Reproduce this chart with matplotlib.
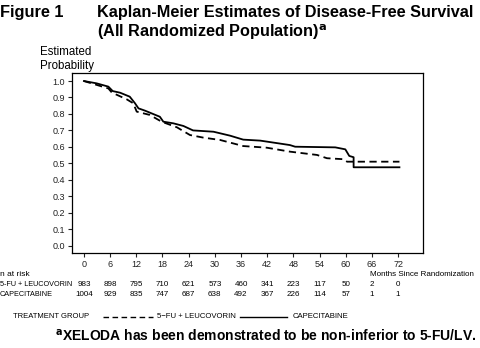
"""Kaplan-Meier disease-free survival figure"""
import matplotlib
matplotlib.use("Agg")
import matplotlib.pyplot as plt

# Curves
cape_months = [0, 2.9, 5.6, 6.6, 8.3, 10.5, 11.7, 12.5, 14, 17.4, 18.2, 20.5, 22.8, 25, 29.7,
               33.5, 36.5, 40.4, 47.2, 48.4, 57.6, 59.9, 60.8, 61.8, 61.8, 72.3]
cape_prob = [1.0, 0.986, 0.966, 0.939, 0.929, 0.905, 0.865, 0.834, 0.82, 0.783, 0.753, 0.743, 0.727,
             0.70, 0.692, 0.668, 0.644, 0.638, 0.611, 0.601, 0.597, 0.585, 0.545, 0.537, 0.476, 0.476]
fu_months = [0, 5.6, 6.4, 9.8, 11.3, 12.1, 15.1, 17.8, 21.3, 24.3, 27.4, 31.2, 36.5, 41.9,
             47.2, 53.4, 55.7, 59.5, 60.3, 72.3]
fu_prob = [1.0, 0.955, 0.93, 0.889, 0.865, 0.814, 0.794, 0.753, 0.719, 0.672, 0.656, 0.642,
           0.605, 0.595, 0.571, 0.551, 0.531, 0.525, 0.51, 0.51]

x_ticks = [0, 6, 12, 18, 24, 30, 36, 42, 48, 54, 60, 66, 72]
y_ticks = [0.0, 0.1, 0.2, 0.3, 0.4, 0.5, 0.6, 0.7, 0.8, 0.9, 1.0]
risk_fu = [983, 898, 795, 710, 621, 573, 460, 341, 223, 117, 50, 2, 0]
risk_cape = [1004, 929, 835, 747, 687, 638, 492, 367, 226, 114, 57, 1, 1]

W, H = 480, 348
plt.rcParams["font.family"] = ["Liberation Sans", "DejaVu Sans"]

fig = plt.figure(figsize=(W / 100, H / 100), dpi=100)


def ftext(x, y, s, **kw):
    """Place text using pixel coordinates (origin top-left)."""
    return fig.text(x / W, 1 - y / H, s, **kw)


# Axes box in pixels
left, top, right, bottom = 71.7, 73.3, 423, 252.7
ax = fig.add_axes([left / W, 1 - bottom / H, (right - left) / W, (bottom - top) / H])
ax.plot(fu_months, fu_prob, color="black", lw=1.3, ls=(0, (4, 2.5)))
ax.plot(cape_months, cape_prob, color="black", lw=1.3)
ax.set_xlim(-2.8, 77.7)
ax.set_ylim(-0.043, 1.047)
ax.set_xticks(x_ticks)
ax.set_yticks(y_ticks)
ax.set_yticklabels([f"{v:.1f}" for v in y_ticks])
ax.tick_params(labelsize=6.5, length=3, width=0.8, pad=2, colors="#222222")
for sp in ax.spines.values():
    sp.set_linewidth(0.9)

# Titles
ftext(0, 13, "Figure 1", fontsize=11.8, fontweight="bold", va="center")
ftext(97, 13, "Kaplan-Meier Estimates of Disease-Free Survival", fontsize=11.7,
      fontweight="bold", va="center")
ftext(97, 32, "(All Randomized Population)$^{\\mathbf{a}}$", fontsize=11.7,
      fontweight="bold", va="center")
ftext(40, 52, "Estimated", fontsize=8.3, va="center")
ftext(40, 66, "Probability", fontsize=8.3, va="center")

# Risk table
ftext(0, 274, "n at risk", fontsize=6, va="center")
ftext(370, 274, "Months Since Randomization", fontsize=5.8, va="center")
ftext(0, 284.5, "5-FU + LEUCOVORIN", fontsize=5.2, va="center")
ftext(0, 295, "CAPECITABINE", fontsize=5.2, va="center")
for m, a, b in zip(x_ticks, risk_fu, risk_cape):
    px = ax.transData.transform((m, 0))[0] * 100 / fig.dpi
    ftext(px, 284.5, str(a), fontsize=5.8, va="center", ha="center")
    ftext(px, 295, str(b), fontsize=5.8, va="center", ha="center")

# Legend row
ftext(13, 317, "TREATMENT GROUP", fontsize=5.5, va="center")
fig.add_artist(plt.Line2D([103 / W, 153 / W], [1 - 317 / H] * 2, color="black", lw=1.0,
                          ls=(0, (4, 2.5))))
ftext(157, 317, "5\u2212FU + LEUCOVORIN", fontsize=5.6, va="center")
fig.add_artist(plt.Line2D([240 / W, 287 / W], [1 - 317 / H] * 2, color="black", lw=1.0))
ftext(293, 317, "CAPECITABINE", fontsize=5.6, va="center")

# Footnote
ftext(55, 336, "$^{\\mathbf{a}}$XELODA has been demonstrated to be non-inferior to 5-FU/LV.",
      fontsize=10, fontweight="bold", va="center")

fig.savefig("out.png", dpi=100)
